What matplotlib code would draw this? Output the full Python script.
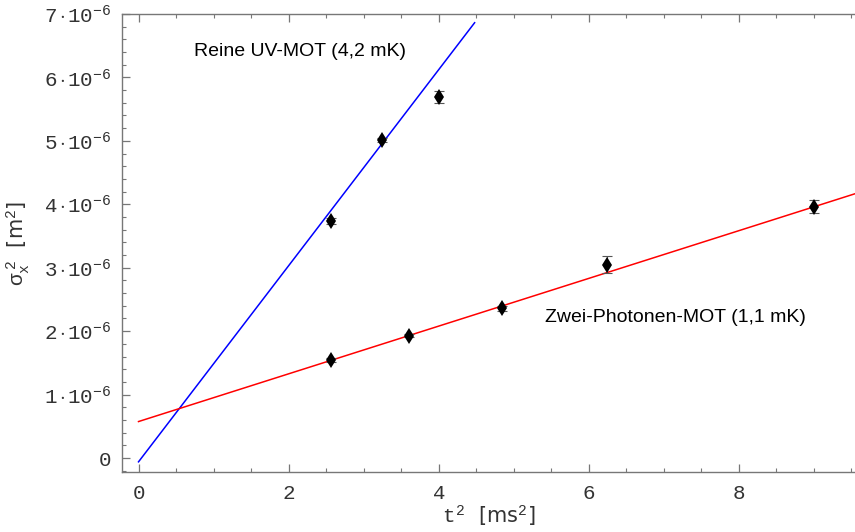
import numpy as np
import matplotlib.pyplot as plt
from matplotlib.ticker import MultipleLocator, FuncFormatter

plt.rcParams['mathtext.fontset'] = 'custom'
plt.rcParams['mathtext.rm'] = 'Liberation Mono'
plt.rcParams['mathtext.it'] = 'Liberation Mono'
plt.rcParams['mathtext.bf'] = 'Liberation Mono'

# data: t^2 in ms^2, sigma_x^2 in m^2
uv_t2 = [2.56, 3.24, 4.00]
uv_sig = [3.74e-6, 5.01e-6, 5.69e-6]
uv_err = [0.05e-6, 0.03e-6, 0.09e-6]

tp_t2 = [2.56, 3.61, 4.84, 6.25, 9.00]
tp_sig = [1.55e-6, 1.93e-6, 2.36e-6, 3.05e-6, 3.96e-6]
tp_err = [0.03e-6, 0.03e-6, 0.04e-6, 0.13e-6, 0.10e-6]

# fit lines (intercept, slope) and x range
uv_fit = (-0.06e-6, 1.545e-6)
uv_fit_range = [0.0, 4.48]
tp_fit = (0.575e-6, 0.376e-6)
tp_fit_range = [0.0, 9.6]

fig = plt.figure(figsize=(8.55, 5.32), dpi=100)
ax = fig.add_axes([0.1427, 0.1128, 0.8573, 0.861])

xu = np.array(uv_fit_range)
ax.plot(xu, uv_fit[0] + uv_fit[1] * xu, color='#0000ff', lw=1.1)
xt = np.array(tp_fit_range)
ax.plot(xt, tp_fit[0] + tp_fit[1] * xt, color='#ff0000', lw=1.1)

for x, y, e in [(uv_t2, uv_sig, uv_err), (tp_t2, tp_sig, tp_err)]:
    ax.errorbar(x, y, yerr=e, fmt='none', ecolor='#555555', elinewidth=0.8,
                capsize=3.5, capthick=0.8)
    ax.plot(x, y, 'd', color='black', ms=8.5, mew=0)

# label positions in figure pixels (origin bottom-left)
ax.text(300, 480, 'Reine UV-MOT (4,2 mK)', transform=None, fontsize=14,
        family='Liberation Sans', ha='center', va='center')
ax.text(675, 214, 'Zwei-Photonen-MOT (1,1 mK)', transform=None, fontsize=14,
        family='Liberation Sans', ha='center', va='center')

ax.set_xlim(-0.22, 9.55)
ax.set_ylim(-0.22e-6, 7e-6)

ax.xaxis.set_major_locator(MultipleLocator(2))
ax.xaxis.set_minor_locator(MultipleLocator(0.5))
ax.yaxis.set_major_locator(MultipleLocator(1e-6))
ax.yaxis.set_minor_locator(MultipleLocator(0.2e-6))


def yfmt(v, pos):
    n = int(round(v * 1e6))
    if n == 0:
        return '$0$'
    return r'$%d\cdot10^{-6}$' % n


ax.yaxis.set_major_formatter(FuncFormatter(yfmt))
ax.xaxis.set_major_formatter(FuncFormatter(lambda v, p: '$%d$' % round(v)))

for s in ['left', 'bottom', 'top']:
    ax.spines[s].set_color('#777777')
    ax.spines[s].set_linewidth(1.0)
ax.spines['right'].set_visible(False)

ax.tick_params(which='both', direction='in', colors='#777777',
               labelcolor='#333333', labelsize=15, top=True, right=False)
ax.tick_params(which='major', length=6, width=0.9)
ax.tick_params(which='minor', length=3, width=0.8)
ax.tick_params(axis='x', pad=8)
ax.tick_params(axis='y', pad=8)

ax.set_xlabel(r'$t^2$  [ms$^2$]', fontsize=15, color='#333333', labelpad=0)
ax.set_ylabel(r'$\sigma_x^{\ 2}$  [m$^2$]', fontsize=15, color='#333333', labelpad=8)

fig.savefig('out.png', dpi=100)
